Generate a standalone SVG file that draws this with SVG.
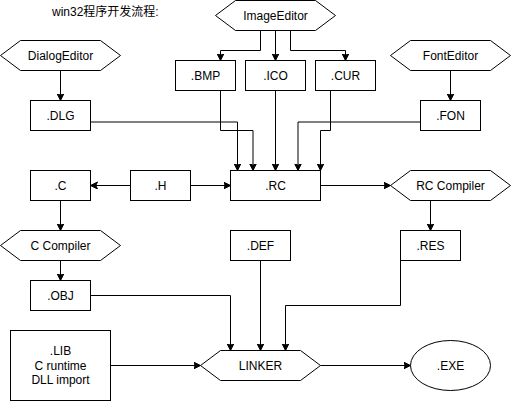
<svg xmlns="http://www.w3.org/2000/svg" width="511" height="401" viewBox="0 0 511 401">
<defs>
<marker id="arr" markerUnits="userSpaceOnUse" markerWidth="10" markerHeight="10" refX="7" refY="3.5" orient="auto">
<path d="M0,0 L7,3.5 L0,7 L1.75,3.5 Z" fill="#000" stroke="#000" stroke-width="1"/>
</marker>
</defs>
<style>
.n{fill:#fff;stroke:#000;stroke-width:1}
.t{font-family:"Liberation Sans","Noto Sans CJK SC",sans-serif;font-size:12px;fill:#000;text-anchor:middle}
.e{fill:none;stroke:#000;stroke-width:1;marker-end:url(#arr)}
</style>
<rect x="0" y="0" width="511" height="401" fill="#fff"/>
<text x="52" y="16" style="font-family:'Liberation Sans','Noto Sans CJK SC',sans-serif;font-size:12px;fill:#000">win32程序开发流程:</text>
<g id="connectors">
<path class="e" d="M60.5,70.5 V100.5"/>
<path class="e" d="M260.5,30.5 V50.5 H220.5 V60.5"/>
<path class="e" d="M275.5,30.5 V60.5"/>
<path class="e" d="M290.5,30.5 V50.5 H345.5 V60.5"/>
<path class="e" d="M450.5,70.5 V100.5"/>
<path class="e" d="M90.5,122 H237.5 V170.5"/>
<path class="e" d="M220.5,90.5 V130.5 H253 V170.5"/>
<path class="e" d="M275.5,90.5 V170.5"/>
<path class="e" d="M420.5,122 H298 V170.5"/>
<path class="e" d="M330.5,90.5 V130.5 H320.5 V170.5"/>
<path class="e" d="M130.5,185.5 H90.5"/>
<path class="e" d="M190.5,185.5 H230.5"/>
<path class="e" d="M320.5,185.5 H390.5"/>
<path class="e" d="M60.5,200.5 V230.5"/>
<path class="e" d="M60.5,260.5 V280.5"/>
<path class="e" d="M430.5,200.5 V230.5"/>
<path class="e" d="M90.5,295.5 H230.5 V350.5"/>
<path class="e" d="M260.5,260.5 V350.5"/>
<path class="e" d="M400.5,260.5 V305.5 H285.5 V350.5"/>
<path class="e" d="M110.5,365.5 H200.5"/>
<path class="e" d="M320.5,365.5 H410.5"/>
</g>
<g id="imageeditor"><polygon class="n" points="215.5,15.5 235.5,0.5 315.5,0.5 335.5,15.5 315.5,30.5 235.5,30.5"/><text class="t" x="275.5" y="19.5">ImageEditor</text></g>
<g id="dialogeditor"><polygon class="n" points="0.5,55.5 20.5,40.5 100.5,40.5 120.5,55.5 100.5,70.5 20.5,70.5"/><text class="t" x="60.5" y="59.5">DialogEditor</text></g>
<g id="fonteditor"><polygon class="n" points="390.5,55.5 410.5,40.5 490.5,40.5 510.5,55.5 490.5,70.5 410.5,70.5"/><text class="t" x="450.5" y="59.5">FontEditor</text></g>
<g id="bmp"><rect class="n" x="175.5" y="60.5" width="60" height="30"/><text class="t" x="205.5" y="79.5">.BMP</text></g>
<g id="ico"><rect class="n" x="245.5" y="60.5" width="60" height="30"/><text class="t" x="275.5" y="79.5">.ICO</text></g>
<g id="cur"><rect class="n" x="315.5" y="60.5" width="60" height="30"/><text class="t" x="345.5" y="79.5">.CUR</text></g>
<g id="dlg"><rect class="n" x="30.5" y="100.5" width="60" height="30"/><text class="t" x="60.5" y="119.5">.DLG</text></g>
<g id="fon"><rect class="n" x="420.5" y="100.5" width="60" height="30"/><text class="t" x="450.5" y="119.5">.FON</text></g>
<g id="c"><rect class="n" x="30.5" y="170.5" width="60" height="30"/><text class="t" x="60.5" y="189.5">.C</text></g>
<g id="h"><rect class="n" x="130.5" y="170.5" width="60" height="30"/><text class="t" x="160.5" y="189.5">.H</text></g>
<g id="rc"><rect class="n" x="230.5" y="170.5" width="90" height="30"/><text class="t" x="275.5" y="189.5">.RC</text></g>
<g id="rccompiler"><polygon class="n" points="390.5,185.5 410.5,170.5 490.5,170.5 510.5,185.5 490.5,200.5 410.5,200.5"/><text class="t" x="450.5" y="189.5">RC Compiler</text></g>
<g id="ccompiler"><polygon class="n" points="0.5,245.5 20.5,230.5 100.5,230.5 120.5,245.5 100.5,260.5 20.5,260.5"/><text class="t" x="60.5" y="249.5">C Compiler</text></g>
<g id="def"><rect class="n" x="230.5" y="230.5" width="60" height="30"/><text class="t" x="260.5" y="249.5">.DEF</text></g>
<g id="res"><rect class="n" x="400.5" y="230.5" width="60" height="30"/><text class="t" x="430.5" y="249.5">.RES</text></g>
<g id="obj"><rect class="n" x="30.5" y="280.5" width="60" height="30"/><text class="t" x="60.5" y="299.5">.OBJ</text></g>
<g id="lib"><rect class="n" x="10.5" y="330.5" width="100" height="70"/><text class="t" x="60.5" y="355"><tspan x="60.5" y="355">.LIB</tspan><tspan x="60.5" y="369.5">C runtime</tspan><tspan x="60.5" y="384">DLL import</tspan></text></g>
<g id="linker"><polygon class="n" points="200.5,365.5 220.5,350.5 300.5,350.5 320.5,365.5 300.5,380.5 220.5,380.5"/><text class="t" x="260.5" y="369.5">LINKER</text></g>
<g id="exe"><ellipse class="n" cx="450.5" cy="365.5" rx="40" ry="25"/><text class="t" x="450.5" y="369.5">.EXE</text></g>
</svg>
